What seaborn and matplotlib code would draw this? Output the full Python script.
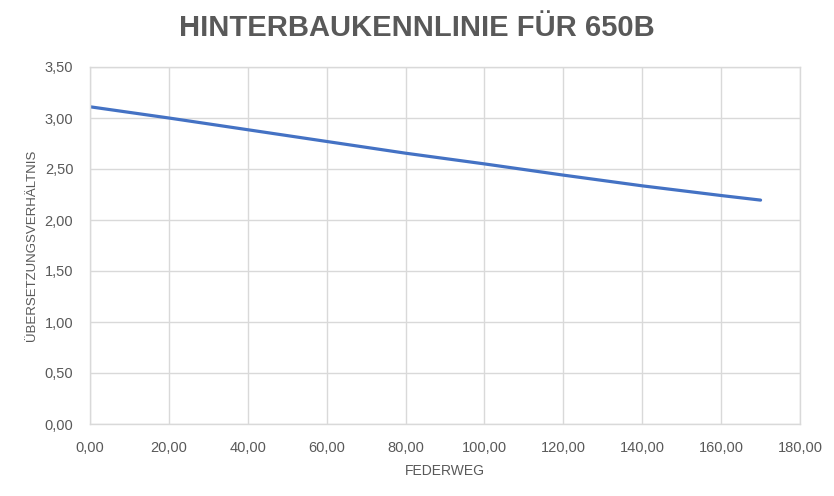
import matplotlib
matplotlib.use("Agg")
import matplotlib.pyplot as plt
import seaborn as sns
import pandas as pd
from matplotlib.ticker import FuncFormatter, MultipleLocator

federweg = [0, 20, 40, 60, 80, 100, 120, 140, 160, 170]
uebersetzung = [3.11, 3.00, 2.885, 2.77, 2.655, 2.55, 2.44, 2.335, 2.24, 2.195]

title = "HINTERBAUKENNLINIE FÜR 650B"
xlabel = "FEDERWEG"
ylabel = "ÜBERSETZUNGSVERHÄLTNIS"

sns.set_theme(style="whitegrid")
plt.rcParams['font.family'] = ['Liberation Sans', 'DejaVu Sans']

df = pd.DataFrame({"x": federweg, "y": uebersetzung})

fig = plt.figure(figsize=(8.34, 4.96), dpi=100)
ax = fig.add_axes([90/834, 1 - 424/496, 710/834, 357/496])

sns.lineplot(data=df, x="x", y="y", ax=ax, color="#4472C4", linewidth=2.3)

ax.set_xlim(0, 180)
ax.set_ylim(0, 3.5)
ax.xaxis.set_major_locator(MultipleLocator(20))
ax.yaxis.set_major_locator(MultipleLocator(0.5))
fmt = FuncFormatter(lambda v, p: f"{v:.2f}".replace(".", ","))
ax.xaxis.set_major_formatter(fmt)
ax.yaxis.set_major_formatter(fmt)
ax.grid(True, color="#D9D9D9", linewidth=1)
for s in ax.spines.values():
    s.set_color("#D9D9D9")
    s.set_linewidth(1)
ax.tick_params(axis="x", colors="#595959", labelsize=10.5, length=0, pad=12)
ax.tick_params(axis="y", colors="#595959", labelsize=10.5, length=0, pad=12)
ax.set_xlabel(xlabel, color="#595959", fontsize=10, labelpad=7)
ax.set_ylabel(ylabel, color="#595959", fontsize=9.5, labelpad=5)

fig.text(417/834, 1 - 28/496, title,
         ha="center", va="center", fontsize=21, fontweight="bold", color="#595959")

fig.savefig("out.png", dpi=100)
